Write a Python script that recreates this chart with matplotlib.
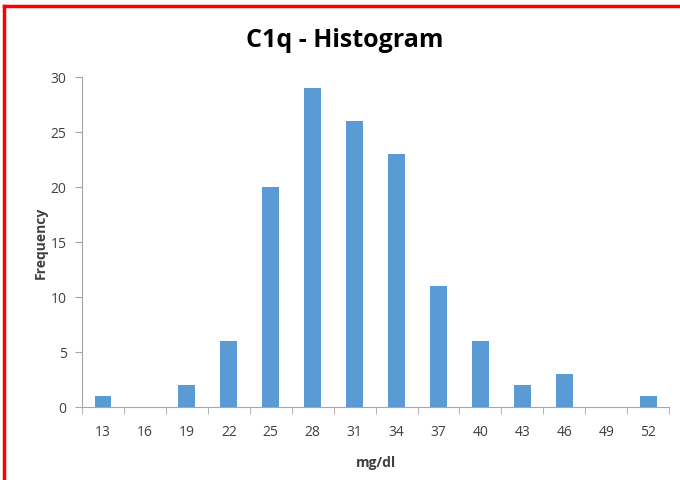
import matplotlib.pyplot as plt
import numpy as np

bins = ['13', '16', '19', '22', '25', '28', '31', '34', '37', '40', '43', '46', '49', '52']
counts = [1, 0, 2, 6, 20, 29, 26, 23, 11, 6, 2, 3, 0, 1]
yticks = [0, 5, 10, 15, 20, 25, 30]

plt.rcParams['font.family'] = ['Open Sans', 'DejaVu Sans']

fig = plt.figure(figsize=(6.8, 4.81), dpi=100)
ax = fig.add_axes([0.1206, 0.152, 0.8634, 0.686])

x = np.arange(len(bins))
ax.bar(x, counts, width=0.4, color='#5B9BD5')

ax.set_xlim(-0.5, len(bins) - 0.5)
ax.set_ylim(0, 30)
ax.set_yticks(yticks)
ax.set_xticks(x)
ax.set_xticklabels(bins)
ax.set_xticks(np.arange(len(bins) + 1) - 0.5, minor=True)
ax.tick_params(axis='x', which='major', length=0, pad=12, labelsize=10, labelcolor='#404040')
ax.tick_params(axis='x', which='minor', length=5, color='#A6A6A6', direction='out')
ax.tick_params(axis='y', length=5, color='#A6A6A6', labelsize=10, labelcolor='#404040', pad=6)

for s in ['top', 'right']:
    ax.spines[s].set_visible(False)
ax.spines['left'].set_color('#A6A6A6')
ax.spines['bottom'].set_color('#A6A6A6')

ax.set_xlabel('mg/dl', fontsize=10, fontweight='bold', color='#404040', labelpad=12)
ax.set_ylabel('Frequency', fontsize=10, fontweight='bold', color='#404040', labelpad=2)
fig.text(0.507, 0.915, 'C1q - Histogram', ha='center', va='center', fontsize=18, fontweight='bold')

# red frame like the original screenshot
fig.add_artist(plt.Line2D([0.006, 0.006], [0, 0.986], transform=fig.transFigure, color='red', lw=2.5))
fig.add_artist(plt.Line2D([0.006, 1], [0.986, 0.986], transform=fig.transFigure, color='red', lw=2.5))

fig.savefig('out.png', dpi=100)
